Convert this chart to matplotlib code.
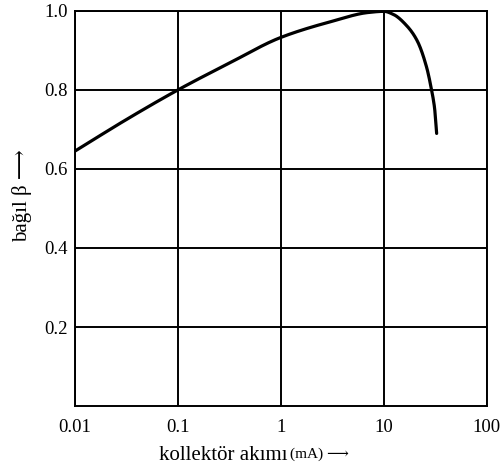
import matplotlib
matplotlib.use("Agg")
import matplotlib.pyplot as plt
import numpy as np

# Data
current_mA = [0.01, 0.0316, 0.1, 0.316, 1, 3.16, 7, 10, 12.4, 16.6, 21, 26, 29, 31, 32.5]
rel_beta   = [0.645, 0.725, 0.800, 0.868, 0.933, 0.974, 0.996, 0.999,
              0.991, 0.963, 0.925, 0.857, 0.80, 0.755, 0.69]
x_ticks = [0.01, 0.1, 1, 10, 100]
x_tick_labels = ["0.01", "0.1", "1", "10", "100"]
y_ticks = [0.2, 0.4, 0.6, 0.8, 1.0]
y_tick_labels = ["0.2", "0.4", "0.6", "0.8", "1.0"]

serif = ["Liberation Serif", "DejaVu Serif"]
plt.rcParams["font.family"] = serif

fig = plt.figure(figsize=(5.02, 4.76), dpi=100)
ax = fig.add_axes([0.149, 0.147, 0.821, 0.830])


def pchip(x, y, xn):
    x = np.asarray(x, float); y = np.asarray(y, float)
    h = np.diff(x); d = np.diff(y) / h
    m = np.zeros_like(y)
    for k in range(1, len(x) - 1):
        if d[k - 1] * d[k] <= 0:
            m[k] = 0
        else:
            w1 = 2 * h[k] + h[k - 1]; w2 = h[k] + 2 * h[k - 1]
            m[k] = (w1 + w2) / (w1 / d[k - 1] + w2 / d[k])
    m[0] = d[0]; m[-1] = d[-1]
    out = np.empty_like(xn)
    for i, xv in enumerate(xn):
        k = min(max(np.searchsorted(x, xv) - 1, 0), len(x) - 2)
        t = (xv - x[k]) / h[k]
        h00 = 2*t**3 - 3*t**2 + 1; h10 = t**3 - 2*t**2 + t
        h01 = -2*t**3 + 3*t**2; h11 = t**3 - t**2
        out[i] = h00*y[k] + h10*h[k]*m[k] + h01*y[k+1] + h11*h[k]*m[k+1]
    return out


lx = np.log10(current_mA)
xs = np.linspace(lx[0], lx[-1], 600)
ys = pchip(lx, rel_beta, xs)
ax.plot(10**xs, ys, color="black", lw=2.3, solid_capstyle="round", zorder=3)

ax.set_xscale("log")
ax.set_xlim(0.01, 100)
ax.set_ylim(0, 1.0)
ax.set_xticks(x_ticks)
ax.set_xticklabels(x_tick_labels)
ax.set_yticks(y_ticks)
ax.set_yticklabels(y_tick_labels)
ax.minorticks_off()
ax.tick_params(length=0, labelsize=13.5)
ax.tick_params(axis="x", pad=9)
ax.tick_params(axis="y", pad=5)
ax.grid(True, color="black", lw=1.4)
for s in ax.spines.values():
    s.set_linewidth(1.4)

fig.text(0.572, 0.044, "kollektör akımı", fontsize=15, ha="right", va="center")
fig.text(0.577, 0.046, "(mA) ⟶", fontsize=11, ha="left", va="center")
fig.text(0.044, 0.588, "bağıl β ⟶", fontsize=15, rotation=90, ha="center", va="center")

fig.savefig("out.png", dpi=100)
